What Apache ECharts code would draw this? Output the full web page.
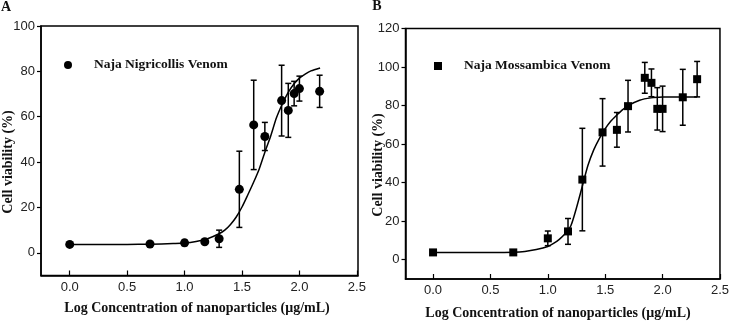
<!DOCTYPE html>
<html>
<head>
<meta charset="utf-8">
<script src="https://cdn.jsdelivr.net/npm/echarts@6/dist/echarts.min.js"></script>
<style>
  html, body { margin: 0; padding: 0; background: #fff; }
  #chart { width: 732px; height: 322px; }
</style>
</head>
<body>
<div id="chart"></div>
<script>
// log10 of concentration (ug/mL)
const logConcA = [0, 0.699, 1.0, 1.176, 1.301, 1.477, 1.602, 1.699, 1.845, 1.903, 1.954, 2.0, 2.176];
const logConcB = [0, 0.699, 1.0, 1.176, 1.301, 1.477, 1.602, 1.699, 1.845, 1.903, 1.954, 2.0, 2.176, 2.301];

// Naja Nigricollis venom: mean and error
const nigMean = [3.7, 3.9, 4.4, 4.9, 6.2, 28.0, 56.4, 51.3, 67.1, 62.8, 70.2, 72.4, 71.2];
const nigErr  = [0.6, 0.8, 1.2, 1.0, 3.8, 16.8, 19.7, 6.2, 15.6, 11.9, 5.4, 5.5, 7.1];

// Naja Mossambica venom: mean and error
const mosMean = [3.8, 3.8, 11.1, 14.7, 41.6, 66.1, 67.4, 79.7, 94.4, 91.8, 78.3, 78.3, 84.3, 93.7];
const mosErr  = [0.5, 0.5, 3.8, 6.7, 26.6, 17.5, 9.0, 13.4, 8.0, 7.2, 11.0, 11.8, 14.5, 9.2];

// fitted curves
const fitAx = [0, 0.5, 0.7, 0.9, 1.0, 1.1, 1.2, 1.3, 1.35, 1.4, 1.45, 1.5, 1.55, 1.6, 1.65, 1.7, 1.75, 1.8, 1.85, 1.9, 1.95, 2.0, 2.05, 2.1, 2.18];
const fitAy = [3.7, 3.7, 3.8, 4.1, 4.3, 5.0, 6.2, 8.4, 10.0, 12.5, 15.8, 20.2, 25.5, 31.0, 37.0, 44.5, 51.5, 59.5, 65.5, 70.5, 74.3, 77.0, 78.8, 80.2, 81.5];
const fitBx = [0, 0.5, 0.7, 0.8, 0.9, 1.0, 1.05, 1.1, 1.15, 1.2, 1.25, 1.3, 1.35, 1.4, 1.45, 1.5, 1.55, 1.6, 1.65, 1.7, 1.8, 1.9, 2.0, 2.15, 2.301];
const fitBy = [3.8, 3.8, 3.9, 4.3, 5.3, 6.9, 8.5, 10.6, 13.5, 17.5, 27.0, 38.0, 49.0, 57.0, 63.0, 68.0, 72.0, 75.0, 77.8, 80.0, 82.8, 84.0, 84.4, 84.5, 84.5];

const xTicks = [0, 0.5, 1.0, 1.5, 2.0, 2.5];
const yTicksA = [0, 20, 40, 60, 80, 100];
const yTicksB = [0, 20, 40, 60, 80, 100, 120];

const nameA = 'Naja Nigricollis Venom';
const nameB = 'Naja Mossambica Venom';

const serif = 'Liberation Serif';
const sans = 'Liberation Sans';

const zip = (xs, ys) => xs.map((x, i) => [x, ys[i]]);
const bars = (xs, ys, es) => xs.map((x, i) => [x, ys[i] - es[i], ys[i] + es[i]]);

function errorBar(params, api) {
  const x = api.value(0);
  const lo = api.coord([x, api.value(1)]);
  const hi = api.coord([x, api.value(2)]);
  const w = 3;
  const st = { stroke: '#000', lineWidth: 1.5 };
  return {
    type: 'group',
    children: [
      { type: 'line', shape: { x1: hi[0], y1: hi[1], x2: lo[0], y2: lo[1] }, style: st },
      { type: 'line', shape: { x1: hi[0] - w, y1: hi[1], x2: hi[0] + w, y2: hi[1] }, style: st },
      { type: 'line', shape: { x1: lo[0] - w, y1: lo[1], x2: lo[0] + w, y2: lo[1] }, style: st }
    ]
  };
}

function xAxisFor(idx, min, max) {
  return {
    type: 'value', gridIndex: idx, min: min, max: max,
    axisLine: { onZero: false, lineStyle: { color: '#000', width: 1.5 } },
    axisTick: { inside: true, length: 5, customValues: xTicks, lineStyle: { color: '#000', width: 1.2 } },
    axisLabel: { customValues: xTicks, formatter: v => v.toFixed(1), color: '#222',
                 fontFamily: sans, fontSize: 13, margin: 5 },
    splitLine: { show: false }
  };
}

function yAxisFor(idx, max, ticks) {
  return {
    type: 'value', gridIndex: idx, min: -10, max: max,
    axisLine: { onZero: false, lineStyle: { color: '#000', width: 1.5 } },
    axisTick: { inside: false, length: 4, customValues: ticks, lineStyle: { color: '#000', width: 1.2 } },
    axisLabel: { customValues: ticks, color: '#222', fontFamily: sans, fontSize: 13, margin: 6 },
    splitLine: { show: false }
  };
}

function legendFor(name, icon, left, top) {
  return {
    data: [{ name: name, icon: icon }],
    left: left, top: top, padding: 0,
    itemWidth: 8, itemHeight: 8,
    itemStyle: { color: '#000', opacity: 1 },
    textStyle: { fontFamily: serif, fontWeight: 'bold', fontSize: 13.5, color: '#111', padding: [0, 0, 0, 17] }
  };
}

function title(text, x, y, rotate) {
  return {
    type: 'text', x: x, y: y, rotation: rotate ? Math.PI / 2 : 0,
    style: { text: text, fontFamily: serif, fontWeight: 'bold', fontSize: 14, fill: '#111',
             align: 'center', verticalAlign: 'middle' }
  };
}

const chart = echarts.init(document.getElementById('chart'));
chart.setOption({
  animation: false,
  grid: [
    { left: 41, top: 26, width: 317, height: 249.5, show: true, borderColor: '#000', borderWidth: 1.5 },
    { left: 405.5, top: 28.5, width: 317, height: 250.5, show: true, borderColor: '#000', borderWidth: 1.5 }
  ],
  xAxis: [xAxisFor(0, -0.25, 2.51), xAxisFor(1, -0.24, 2.5)],
  yAxis: [yAxisFor(0, 100, yTicksA), yAxisFor(1, 120, yTicksB)],
  legend: [legendFor(nameA, 'circle', 64, 58), legendFor(nameB, 'rect', 434, 59)],
  graphic: [
    title('A', 6, 7, false),
    title('B', 377, 6, false),
    title('Cell viability (%)', 8, 162, true),
    title('Cell viability (%)', 378, 165, true),
    title('Log Concentration of nanoparticles (\u03bcg/mL)', 197, 308, false),
    title('Log Concentration of nanoparticles (\u03bcg/mL)', 558, 313, false)
  ],
  series: [
    { type: 'line', xAxisIndex: 0, yAxisIndex: 0, data: zip(fitAx, fitAy), smooth: 0.25,
      showSymbol: false, lineStyle: { color: '#000', width: 1.5 }, z: 2 },
    { type: 'custom', xAxisIndex: 0, yAxisIndex: 0, data: bars(logConcA, nigMean, nigErr),
      renderItem: errorBar, encode: { x: 0, y: [1, 2] }, z: 3 },
    { name: nameA, type: 'scatter', xAxisIndex: 0, yAxisIndex: 0, data: zip(logConcA, nigMean),
      symbol: 'circle', symbolSize: 9, itemStyle: { color: '#000', opacity: 1 }, z: 4 },

    { type: 'line', xAxisIndex: 1, yAxisIndex: 1, data: zip(fitBx, fitBy), smooth: 0.25,
      showSymbol: false, lineStyle: { color: '#000', width: 1.5 }, z: 2 },
    { type: 'custom', xAxisIndex: 1, yAxisIndex: 1, data: bars(logConcB, mosMean, mosErr),
      renderItem: errorBar, encode: { x: 0, y: [1, 2] }, z: 3 },
    { name: nameB, type: 'scatter', xAxisIndex: 1, yAxisIndex: 1, data: zip(logConcB, mosMean),
      symbol: 'rect', symbolSize: 8, itemStyle: { color: '#000', opacity: 1 }, z: 4 }
  ]
});
</script>
</body>
</html>
